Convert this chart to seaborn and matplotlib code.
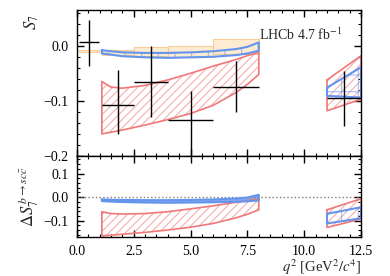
import numpy as np
import matplotlib
matplotlib.use("Agg")
import matplotlib.pyplot as plt
import seaborn as sns
from matplotlib.ticker import MultipleLocator

# measured S7 bins (LHCb)
bin_lo = [0.1, 1.1, 2.5, 4.0, 6.0, 11.0]
bin_hi = [0.98, 2.5, 4.0, 6.0, 8.0, 12.5]
s7_val = [0.006, -0.107, -0.065, -0.135, -0.074, -0.095]
s7_up = [0.041, 0.063, 0.064, 0.053, 0.047, 0.050]
s7_dn = [0.042, 0.053, 0.065, 0.075, 0.046, 0.050]

# SM bins (orange)
sm_lo = [0.1, 1.1, 2.5, 4.0, 6.0]
sm_hi = [0.98, 2.5, 4.0, 6.0, 8.0]
sm_low = [-0.011, -0.016, -0.018, -0.020, -0.015]
sm_high = [-0.008, -0.008, -0.003, -0.001, 0.012]

# low q2 bands
q_low = [1.1, 1.5, 2.0, 3.0, 4.0, 5.0, 6.0, 7.0, 7.5, 8.0]
blue_top = [-0.008, -0.010, -0.012, -0.013, -0.013, -0.012, -0.010, -0.006, -0.002, 0.006]
blue_bot = [-0.014, -0.016, -0.019, -0.021, -0.022, -0.021, -0.020, -0.017, -0.014, -0.009]
red_top = [-0.065, -0.075, -0.077, -0.072, -0.062, -0.050, -0.037, -0.025, -0.018, -0.012]
red_bot = [-0.160, -0.157, -0.153, -0.144, -0.134, -0.123, -0.108, -0.085, -0.070, -0.052]

# high q2 bands
q_high = [11.0, 12.5]
blue_top_h = [-0.076, -0.039]
blue_bot_h = [-0.091, -0.094]
red_top_h = [-0.062, -0.018]
red_bot_h = [-0.118, -0.097]

# Delta S7 bands (lower panel)
d_blue_top = [-0.010, -0.011, -0.012, -0.013, -0.013, -0.012, -0.010, -0.006, -0.002, 0.010]
d_blue_bot = [-0.017, -0.019, -0.021, -0.023, -0.024, -0.023, -0.022, -0.020, -0.018, -0.014]
d_red_top = [-0.062, -0.070, -0.072, -0.070, -0.062, -0.050, -0.037, -0.022, -0.015, -0.007]
d_red_bot = [-0.165, -0.162, -0.158, -0.150, -0.140, -0.128, -0.112, -0.088, -0.073, -0.054]
d_blue_top_h = [-0.071, -0.043]
d_blue_bot_h = [-0.112, -0.090]
d_red_top_h = [-0.054, -0.007]
d_red_bot_h = [-0.129, -0.093]

sns.set_theme(style="ticks")
plt.rcParams["font.family"] = ["Liberation Serif", "DejaVu Serif"]
plt.rcParams["mathtext.fontset"] = "stix"
plt.rcParams["font.size"] = 10
plt.rcParams["hatch.linewidth"] = 0.8

BLUE = "#6495ed"
RED = "#f07878"
ORANGE_FILL = "#fdebd2"
ORANGE_EDGE = "#f8cc98"

fig = plt.figure(figsize=(3.9, 2.76), dpi=100)
ax1 = fig.add_axes([0.197, 0.435, 0.729, 0.529])
ax2 = fig.add_axes([0.197, 0.141, 0.729, 0.294], sharex=ax1)


def band(ax, x, lo, hi, color, hatch, lw=1.2):
    ax.fill_between(x, lo, hi, facecolor="none", edgecolor=color, hatch=hatch,
                    linewidth=0, alpha=0.6)
    xs = list(x) + list(x[::-1]) + [x[0]]
    ys = list(hi) + list(lo[::-1]) + [hi[0]]
    ax.plot(xs, ys, color=color, lw=lw)


# top panel
w = np.array(sm_hi) - np.array(sm_lo)
ax1.bar(sm_lo, np.array(sm_high) - np.array(sm_low), width=w, bottom=sm_low,
        align="edge", color=ORANGE_FILL, edgecolor=ORANGE_EDGE, linewidth=0.8)
band(ax1, q_low, red_bot, red_top, RED, "////")
band(ax1, q_high, red_bot_h, red_top_h, RED, "////")
band(ax1, q_low, blue_bot, blue_top, BLUE, "+", lw=1.5)
band(ax1, q_high, blue_bot_h, blue_top_h, BLUE, "+", lw=1.5)

xc = (np.array(bin_lo) + np.array(bin_hi)) / 2
xe = (np.array(bin_hi) - np.array(bin_lo)) / 2
ax1.errorbar(xc, s7_val, xerr=xe, yerr=[s7_dn, s7_up], fmt="none",
             ecolor="black", elinewidth=1.0, capsize=0, zorder=5)
ax1.text(0.933, 0.83, r"LHCb 4.7 fb$^{-1}$", transform=ax1.transAxes,
         ha="right", va="center", fontsize=10)

ax1.set_ylim(-0.2, 0.065)
ax1.set_ylabel(r"$S_7$", loc="top", fontsize=12)
ax1.yaxis.set_major_locator(MultipleLocator(0.1))
ax1.yaxis.set_minor_locator(MultipleLocator(0.02))
plt.setp(ax1.get_xticklabels(), visible=False)

# bottom panel
ax2.axhline(0, color="grey", ls=":", lw=1.0)
band(ax2, q_low, d_red_bot, d_red_top, RED, "////")
band(ax2, q_high, d_red_bot_h, d_red_top_h, RED, "////")
band(ax2, q_low, d_blue_bot, d_blue_top, BLUE, "", lw=1.5)
ax2.fill_between(q_low, d_blue_bot, d_blue_top, color=BLUE, alpha=0.8, lw=0)
band(ax2, q_high, d_blue_bot_h, d_blue_top_h, BLUE, "+", lw=1.5)

ax2.set_ylim(-0.17, 0.175)
ax2.set_ylabel(r"$\Delta S_7^{\,b\to sc\bar{c}}$", fontsize=12)
ax2.yaxis.set_major_locator(MultipleLocator(0.1))
ax2.yaxis.set_minor_locator(MultipleLocator(0.02))
ax2.set_xlim(0, 12.5)
ax2.xaxis.set_major_locator(MultipleLocator(2.5))
ax2.xaxis.set_minor_locator(MultipleLocator(0.5))
ax2.set_xlabel(r"$q^2$ [GeV$^2/c^4$]", loc="right", fontsize=10.5, labelpad=-1)

for ax in (ax1, ax2):
    ax.tick_params(which="both", direction="in", top=True, right=True,
                   colors="black", labelsize=10, pad=6)
    ax.tick_params(which="major", length=5, width=1)
    ax.tick_params(which="minor", length=2.5, width=0.8)
    for s in ax.spines.values():
        s.set_linewidth(1)
        s.set_color("black")

ax1.yaxis.set_label_coords(-0.125, 0.97)
ax2.yaxis.set_label_coords(-0.125, 0.5)

fig.savefig("out.png", dpi=100)
